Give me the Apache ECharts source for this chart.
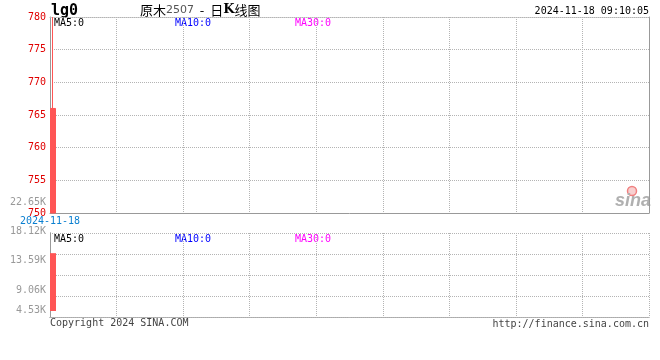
<!DOCTYPE html>
<html><head><meta charset="utf-8">
<script src="https://cdn.jsdelivr.net/npm/echarts@6/dist/echarts.min.js"></script>
<style>html,body{margin:0;padding:0;background:#fff}#c{width:660px;height:360px}</style>
</head><body><div id="c"></div>
<script>
// ---- data ----
const dates = ['2024-11-18'];
const ohlc = [[750, 766, 750, 780]];      // open, close, low, high
const volumes = [14.7];                    // thousands
const slots = 100;                         // day slots on the x axis
const priceMin = 750, priceMax = 780, priceStep = 5;
const volStep = 4.53;                      // K per volume tick label
const volUpperTicks = [2, 5];              // 9.06K .. 22.65K (in steps)
const volLowerTicks = [1, 2];              // 4.53K .. 9.06K
const volRange = [5.8, 17.8];
const titleCode = 'lg0';
const subtitleParts = ['原木', '2507', '  -  日', 'K', '线图'];
const stamp = '2024-11-18 09:10:05';
const maLabels = ['MA5:0', 'MA10:0', 'MA30:0'];
const maColors = ['#000000', '#0000ff', '#ff00ff'];
const footerLeft = 'Copyright 2024 SINA.COM';
const footerRight = 'http://finance.sina.com.cn';

// ---- build ----
const cats = [];
for (let i = 0; i < slots; i++) cats.push(i < dates.length ? dates[i] : '');
const MONO = "'DejaVu Sans Mono', 'Liberation Mono', monospace";
const dotted = { color: '#b4b4b4', type: [1, 1], width: 1 };
const solid = { color: '#999999', width: 1 };
const L = 50, W = 599;

const chart = echarts.init(document.getElementById('c'), null, { renderer: 'canvas' });

const hidden = { axisLabel: { show: false }, axisTick: { show: false }, axisLine: { show: false }, splitLine: { show: false } };

const maText = (y) => maLabels.map((t, i) => ({
  type: 'text', x: [54, 175, 295][i], y: y,
  style: { text: t, fill: maColors[i], font: '10px ' + MONO, verticalAlign: 'middle' }
}));

chart.setOption({
  animation: false,
  backgroundColor: '#ffffff',
  grid: [
    { left: L, top: 17, width: W, height: 196 },
    { left: L, top: 233, width: W, height: 84 },
    { left: L, top: 233, width: W, height: 78 },
    { left: L, top: 202, width: W, height: 88 },
    { left: L, top: 290, width: W, height: 20 }
  ],
  xAxis: [
    { gridIndex: 0, type: 'category', data: cats, boundaryGap: true,
      axisLine: { lineStyle: solid }, axisTick: { show: false },
      axisLabel: { interval: 0, color: '#0a7fd0', fontFamily: MONO, fontSize: 10, margin: 3, padding: [0, 6, 0, 0] },
      splitLine: { show: false } },
    { gridIndex: 0, type: 'value', min: 0, max: 9, interval: 1, position: 'top',
      axisLine: { show: true, lineStyle: dotted }, axisTick: { show: false }, axisLabel: { show: false },
      splitLine: { show: true, lineStyle: dotted } },
    { gridIndex: 1, type: 'value', min: 0, max: 9, interval: 1, position: 'bottom',
      axisLine: { show: true, lineStyle: solid }, axisTick: { show: false }, axisLabel: { show: false },
      splitLine: { show: true, lineStyle: dotted } },
    { gridIndex: 1, type: 'value', min: 0, max: 9, position: 'top',
      axisLine: { show: true, lineStyle: dotted }, axisTick: { show: false }, axisLabel: { show: false },
      splitLine: { show: false } },
    Object.assign({ gridIndex: 2, type: 'category', data: cats, boundaryGap: true }, hidden),
    Object.assign({ gridIndex: 3, type: 'value', min: 0, max: 1 }, hidden),
    Object.assign({ gridIndex: 4, type: 'value', min: 0, max: 1 }, hidden)
  ],
  yAxis: [
    { gridIndex: 0, type: 'value', min: priceMin, max: priceMax, interval: priceStep,
      axisLine: { show: true, lineStyle: solid }, axisTick: { show: false },
      axisLabel: { color: '#e00000', fontFamily: MONO, fontSize: 10, margin: 4, padding: [0, 0, 4, 0] },
      splitLine: { show: true, lineStyle: dotted } },
    { gridIndex: 0, type: 'value', min: 0, max: 1, position: 'right',
      axisLine: { show: true, lineStyle: solid }, axisTick: { show: false }, axisLabel: { show: false }, splitLine: { show: false } },
    { gridIndex: 1, type: 'value', min: 0, max: 4, interval: 1,
      axisLine: { show: true, lineStyle: solid }, axisTick: { show: false }, axisLabel: { show: false },
      splitLine: { show: true, lineStyle: dotted } },
    { gridIndex: 1, type: 'value', min: 0, max: 1, position: 'right',
      axisLine: { show: true, lineStyle: solid }, axisTick: { show: false }, axisLabel: { show: false }, splitLine: { show: false } },
    Object.assign({ gridIndex: 2, type: 'value', min: volRange[0], max: volRange[1] }, hidden),
    { gridIndex: 3, type: 'value', min: volUpperTicks[0], max: volUpperTicks[1], interval: 1,
      axisLine: { show: false }, axisTick: { show: false }, splitLine: { show: false },
      axisLabel: { color: '#999999', fontFamily: MONO, fontSize: 10, margin: 4,
        formatter: v => (v * volStep).toFixed(2) + 'K' } },
    { gridIndex: 4, type: 'value', min: volLowerTicks[0], max: volLowerTicks[1], interval: 1,
      axisLine: { show: false }, axisTick: { show: false }, splitLine: { show: false },
      axisLabel: { color: '#999999', fontFamily: MONO, fontSize: 10, margin: 4, showMaxLabel: false,
        formatter: v => (v * volStep).toFixed(2) + 'K' } }
  ],
  series: [
    { type: 'candlestick', xAxisIndex: 0, yAxisIndex: 0, data: ohlc, barWidth: 6,
      itemStyle: { color: '#ff5555', color0: '#00aa00', borderColor: '#ff5555', borderColor0: '#00aa00', borderWidth: 1 } },
    { type: 'bar', xAxisIndex: 4, yAxisIndex: 4, data: volumes, barWidth: 6,
      itemStyle: { color: '#ff5555' } }
  ],
  graphic: [
    { type: 'text', x: 51, y: 11, style: { text: titleCode, fill: '#000', font: 'bold 15px ' + MONO, verticalAlign: 'middle' } },
    { type: 'text', x: 140, y: 10, style: {
        text: '{a|' + subtitleParts[0] + '}{b|' + subtitleParts[1] + '}{a|' + subtitleParts[2] + '}{k|' + subtitleParts[3] + '}{a|' + subtitleParts[4] + '}',
        verticalAlign: 'middle',
        rich: {
          a: { fontFamily: "'Noto Sans CJK SC'", fontSize: 13, fill: '#000', color: '#000' },
          b: { fontFamily: "'DejaVu Sans'", fontSize: 11, fill: '#555', color: '#555' },
          k: { fontFamily: "'DejaVu Serif'", fontWeight: 'bold', fontSize: 13, fill: '#000', color: '#000' }
        } } },
    { type: 'text', x: 649, y: 11, style: { text: stamp, fill: '#000', font: '10px ' + MONO, align: 'right', verticalAlign: 'middle' } },
    ...maText(23),
    ...maText(239),
    { type: 'text', x: 50, y: 323, style: { text: footerLeft, fill: '#444', font: '10px ' + MONO, verticalAlign: 'middle' } },
    { type: 'text', x: 649, y: 324, style: { text: footerRight, fill: '#444', font: '10px ' + MONO, align: 'right', verticalAlign: 'middle' } },
    { type: 'circle', shape: { cx: 632, cy: 191, r: 4.5 }, style: { fill: '#f8d0d0', stroke: '#f08080', lineWidth: 1.5 } },
    { type: 'text', x: 651, y: 201, style: { text: 'sina', fill: '#b0b0b0', font: 'italic bold 18px Arial, sans-serif', align: 'right', verticalAlign: 'middle' } }
  ]
});
</script></body></html>
